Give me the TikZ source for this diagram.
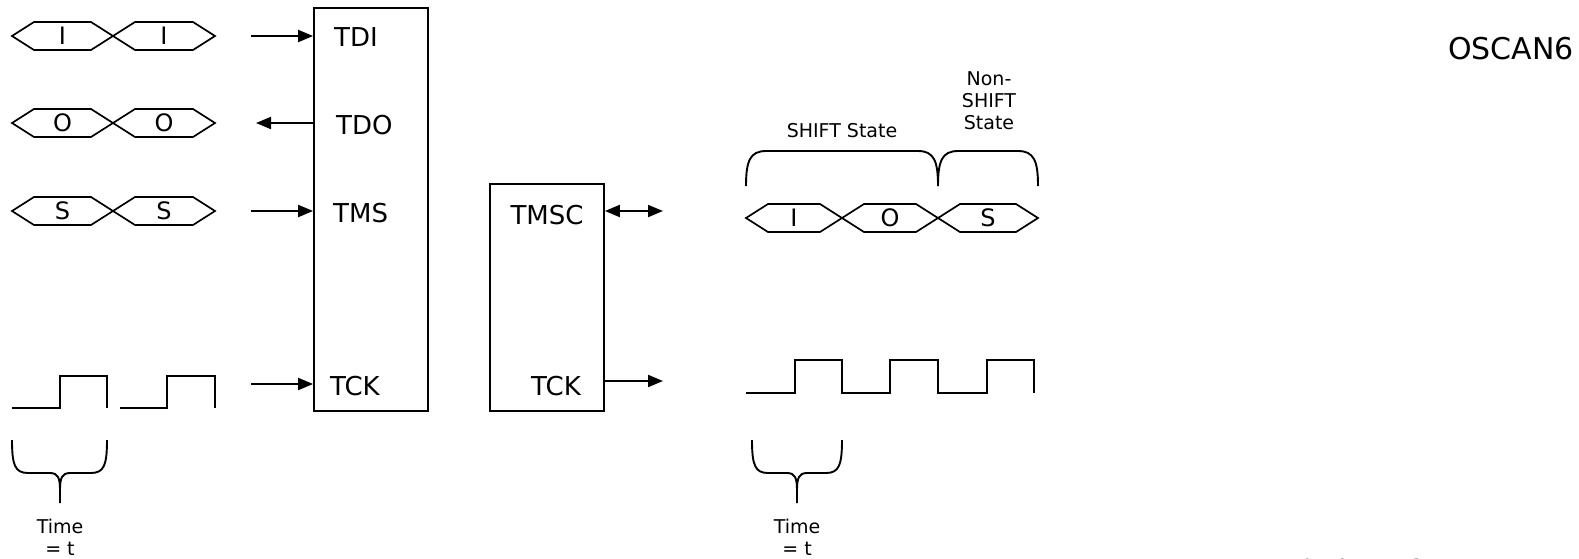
\documentclass[tikz,border=0pt]{standalone}
\usepackage{fontspec}
\setmainfont{DejaVu Sans}
\usetikzlibrary{arrows.meta}
\tikzset{
  wire/.style={line width=2pt},
  sig/.style={line width=2pt, -{Triangle[length=15pt,width=12pt]}},
  dsig/.style={line width=2pt, {Triangle[length=15pt,width=12pt]}-{Triangle[length=15pt,width=12pt]}},
  pin/.style={font=\fontsize{26}{28}\selectfont, inner sep=0pt},
  hexlab/.style={font=\fontsize{24}{26}\selectfont, inner sep=0pt},
  small/.style={font=\fontsize{19}{22}\selectfont, align=center, inner sep=0pt},
  hexa/.style={line width=1.7pt},
  brace/.style={line width=1.9pt}
}
\newcommand{\hexcell}[4]{% x0 x1 ycenter label
  \draw[hexa] (#1,#3) -- (#1+22,#3-14) -- (#2-22,#3-14) -- (#2,#3) -- (#2-22,#3+14) -- (#1+22,#3+14) -- cycle;
  \node[hexlab] at ({(#1+#2)/2},#3) {#4};
}
\newcommand{\lowbrace}[4]{% x0 xm x1 ytop
  \draw[brace] (#1,#4) .. controls (#1,#4+25) and (#1+3,#4+33) .. (#1+16,#4+33)
    -- (#2-10,#4+33) .. controls (#2-2,#4+33) and (#2,#4+38) .. (#2,#4+50) -- (#2,#4+63);
  \draw[brace] (#2,#4+50) .. controls (#2,#4+38) and (#2+2,#4+33) .. (#2+10,#4+33)
    -- (#3-16,#4+33) .. controls (#3-3,#4+33) and (#3,#4+25) .. (#3,#4);
}
\newcommand{\capbrace}[3]{% x0 x1 ybottom
  \draw[brace] (#1,#3) .. controls (#1,#3-25) and (#1+4,#3-35) .. (#1+20,#3-35)
    -- (#2-20,#3-35) .. controls (#2-4,#3-35) and (#2,#3-25) .. (#2,#3);
}
\begin{document}
\begin{tikzpicture}[x=1pt,y=-1pt]
\useasboundingbox (0,0) rectangle (1579,558);

% ---------- left waveforms ----------
\hexcell{12}{113}{36}{I}
\hexcell{113}{215}{36}{I}
\hexcell{12}{113}{123}{O}
\hexcell{113}{215}{123}{O}
\hexcell{12}{113}{211}{S}
\hexcell{113}{215}{211}{S}

\draw[wire] (12,408) -- (60,408) -- (60,376) -- (107,376) -- (107,408);
\draw[wire] (120,408) -- (167,408) -- (167,376) -- (215,376) -- (215,408);

\lowbrace{12}{60}{107}{440}
\node[small] (time1) at (60,537) {Time\\= t};

% ---------- JTAG box ----------
\node[draw, line width=1.8pt, minimum width=114pt, minimum height=403pt, inner sep=0pt] (jtag) at (371,209.5) {};
\node[pin, anchor=west] (tdi) at (334,37) {TDI};
\node[pin, anchor=west] (tdo) at (336,125) {TDO};
\node[pin, anchor=west] (tms) at (333,213) {TMS};
\node[pin, anchor=west] (tck) at (330,386) {TCK};

\coordinate (a1) at (251,36);
\coordinate (a2) at (256,123);
\coordinate (a3) at (251,211);
\coordinate (a4) at (251,384);
\draw[sig] (a1) -- (a1 -| jtag.west);
\draw[sig] (a2 -| jtag.west) -- (a2);
\draw[sig] (a3) -- (a3 -| jtag.west);
\draw[sig] (a4) -- (a4 -| jtag.west);

% ---------- cJTAG box ----------
\node[draw, line width=1.8pt, minimum width=114pt, minimum height=227pt, inner sep=0pt] (cjtag) at (547,297.5) {};
\node[pin] (tmsc) at (547,215) {TMSC};
\node[pin] (tck2) at (556,386) {TCK};
\coordinate (b1) at (663,211);
\coordinate (b2) at (663,381);
\draw[dsig] (b1 -| cjtag.east) -- (b1);
\draw[sig] (b2 -| cjtag.east) -- (b2);

% ---------- right waveforms ----------
\hexcell{746}{842}{218}{I}
\hexcell{842}{938}{218}{O}
\hexcell{938}{1038}{218}{S}

\capbrace{746}{938}{186}
\capbrace{938}{1038}{186}
\node[small] (shift) at (842,131) {SHIFT State};
\node[small] (nonshift) at (989,101) {Non-\\SHIFT\\State};

\draw[wire] (746,393) -- (795,393) -- (795,360) -- (842,360) -- (842,393)
  -- (890,393) -- (890,360) -- (938,360) -- (938,393)
  -- (987,393) -- (987,360) -- (1034,360) -- (1034,393);

\lowbrace{752}{797}{842}{440}
\node[small] (time2) at (797,537) {Time\\= t};

% ---------- titles ----------
\node[font=\fontsize{30}{32}\selectfont, inner sep=0pt] (title) at (1511,49) {OSCAN6};
\node[font=\fontsize{28}{30}\selectfont, inner sep=0pt, anchor=base west] (caption) at (1287,580) {Timing of OSCAN6 TCK/TMSC};
\end{tikzpicture}
\end{document}
